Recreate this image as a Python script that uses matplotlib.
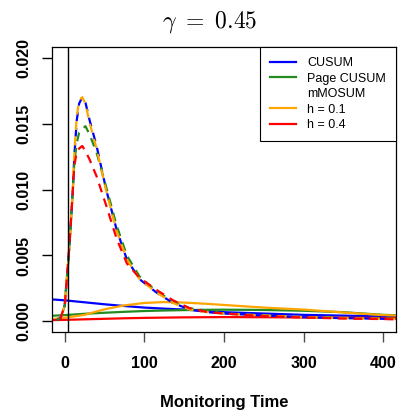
import matplotlib
matplotlib.use("Agg")
import matplotlib.pyplot as plt
from matplotlib.lines import Line2D

plt.rcParams["font.family"] = ["Liberation Sans", "DejaVu Sans"]
plt.rcParams["mathtext.fontset"] = "cm"

# solid curves
t_solid = [-16, 0, 25, 50, 75, 100, 125, 150, 175, 200, 250, 300, 350, 400, 416]
cusum_s = [0.00167, 0.0016, 0.00145, 0.0013, 0.00117, 0.00105, 0.00097, 0.0009,
           0.0008, 0.0007, 0.0006, 0.0005, 0.00044, 0.00038, 0.00036]
page_s = [0.00043, 0.00048, 0.00058, 0.00066, 0.00073, 0.00079, 0.00083, 0.00086,
          0.00088, 0.00089, 0.00087, 0.00081, 0.0007, 0.0005, 0.00047]
h01_s = [0.00018, 0.00028, 0.0005, 0.00092, 0.00122, 0.0014, 0.00147, 0.00143,
         0.00135, 0.00125, 0.00105, 0.0009, 0.00068, 0.00048, 0.00045]
h04_s = [0.0001, 0.00012, 0.00016, 0.0002, 0.00024, 0.00027, 0.00029, 0.00031,
         0.00032, 0.00033, 0.00032, 0.0003, 0.00028, 0.00026, 0.00025]

# dashed curves
t_dash = [-10, -5, 0, 2, 5, 7, 10, 12, 15, 18, 22, 26, 31, 40, 52, 65, 78, 94,
          115, 136, 157, 180, 200, 250, 300, 350, 400, 416]
cusum_d = [0.0001, 0.0003, 0.0012, 0.0028, 0.0050, 0.0068, 0.0098, 0.0125, 0.0152,
           0.0165, 0.0170, 0.0166, 0.0153, 0.0133, 0.0100, 0.0070, 0.0047, 0.0032,
           0.0022, 0.0014, 0.0009, 0.0007, 0.0006, 0.00045, 0.00032, 0.00025, 0.0002, 0.00018]
page_d = [0.0001, 0.0003, 0.0012, 0.0028, 0.0050, 0.0068, 0.0098, 0.0120, 0.0135,
          0.0143, 0.0146, 0.0148, 0.0142, 0.0128, 0.0102, 0.0073, 0.0050, 0.0034,
          0.0023, 0.0015, 0.0010, 0.0008, 0.0006, 0.00045, 0.00033, 0.00027, 0.00022, 0.0002]
h01_d = [0.0001, 0.0003, 0.0012, 0.0028, 0.0050, 0.0068, 0.0099, 0.0127, 0.0155,
         0.0167, 0.0170, 0.0165, 0.0151, 0.0131, 0.0099, 0.0069, 0.0047, 0.0032,
         0.0022, 0.0014, 0.0009, 0.0007, 0.0006, 0.00045, 0.00032, 0.00025, 0.0002, 0.00018]
h04_d = [0.0001, 0.0003, 0.0012, 0.0028, 0.0050, 0.0068, 0.0098, 0.0118, 0.0128,
         0.0131, 0.0133, 0.0129, 0.0123, 0.0110, 0.0088, 0.0063, 0.0044, 0.0033,
         0.0024, 0.0016, 0.0010, 0.0007, 0.0006, 0.0004, 0.0003, 0.00022, 0.00018, 0.00016]

CHANGE_T = 4
xticks = [0, 100, 200, 300, 400]
yticks = [0.0, 0.005, 0.010, 0.015, 0.020]
ylabels = ["0.000", "0.005", "0.010", "0.015", "0.020"]

C_BLUE, C_GREEN, C_ORANGE, C_RED = "#0000ff", "#228b22", "#ffa500", "#ff0000"

W, H = 398, 418
fig = plt.figure(figsize=(W / 100, H / 100), dpi=100)
ax = fig.add_axes([52 / W, (H - 332) / H, (396 - 52) / W, (332 - 47) / H])

lw = 1.6
ax.plot(t_solid, cusum_s, color=C_BLUE, lw=lw)
ax.plot(t_solid, page_s, color=C_GREEN, lw=lw)
ax.plot(t_solid, h01_s, color=C_ORANGE, lw=lw)
ax.plot(t_solid, h04_s, color=C_RED, lw=lw)
ax.plot(t_dash, cusum_d, color=C_BLUE, lw=lw, ls=(0, (4, 3)))
ax.plot(t_dash, page_d, color=C_GREEN, lw=lw, ls=(2, (4, 3)))
ax.plot(t_dash, h01_d, color=C_ORANGE, lw=lw, ls=(4, (4, 3)))
ax.plot(t_dash, h04_d, color=C_RED, lw=lw, ls=(5.5, (4, 3)))
ax.axvline(CHANGE_T, color="black", lw=1.0)

ax.set_xlim(-16, 416)
ax.set_ylim(-0.0008, 0.0208)
ax.set_xticks(xticks)
ax.set_xticklabels([str(v) for v in xticks], fontsize=11.5, fontweight="bold")
ax.set_yticks(yticks)
ax.set_yticklabels(ylabels, fontsize=11.5, fontweight="bold", rotation=90, va="center")
ax.tick_params(axis="x", length=7, width=1.0, pad=10, color="0.3")
ax.tick_params(axis="y", length=7, width=1.0, pad=8)
for s in ax.spines.values():
    s.set_linewidth(0.9)

fig.text(224 / W, 1 - 403 / H, "Monitoring Time", ha="center", va="center",
         fontsize=12, fontweight="bold")
fig.text(210 / W, 1 - 22 / H, r"$\gamma\ =\ 0.45$", ha="center", va="center", fontsize=17)

handles = [Line2D([], [], color=C_BLUE, lw=lw),
           Line2D([], [], color=C_GREEN, lw=lw),
           Line2D([], [], color="none", lw=lw),
           Line2D([], [], color=C_ORANGE, lw=lw),
           Line2D([], [], color=C_RED, lw=lw)]
labels = ["CUSUM", "Page CUSUM", "mMOSUM", "h = 0.1", "h = 0.4"]
leg = ax.legend(handles, labels, loc="upper right", fontsize=9, frameon=True,
                fancybox=False, edgecolor="black", framealpha=1, borderaxespad=0,
                handlelength=2.1, handletextpad=0.9, labelspacing=0.28, borderpad=0.8)
leg.get_frame().set_linewidth(0.8)

fig.savefig("out.png", dpi=100)
